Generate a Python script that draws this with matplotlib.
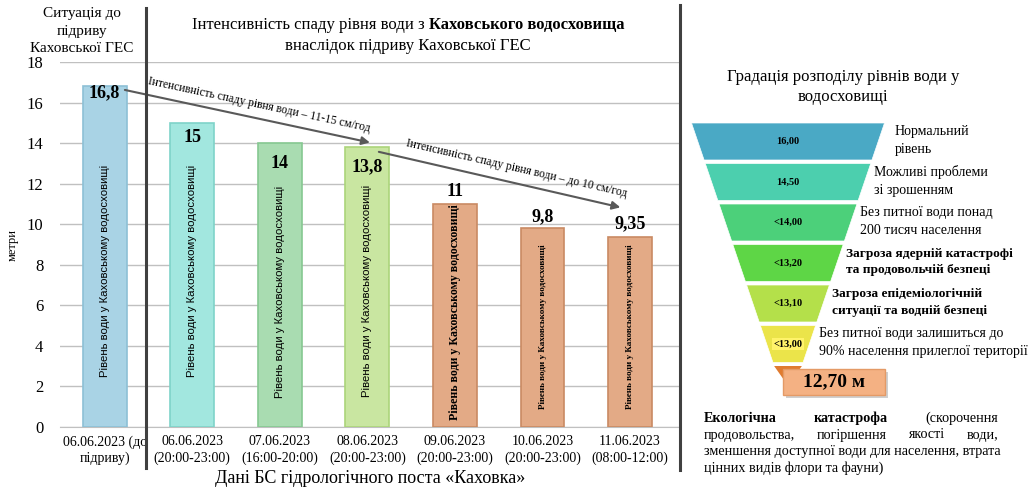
import matplotlib
matplotlib.use("Agg")
import matplotlib.pyplot as plt
from matplotlib.patches import Polygon, Rectangle
import numpy as np

plt.rcParams['font.family'] = ['Liberation Serif', 'DejaVu Serif']

# data
dates = ['06.06.2023 (до\nпідриву)', '06.06.2023\n(20:00-23:00)', '07.06.2023\n(16:00-20:00)',
         '08.06.2023\n(20:00-23:00)', '09.06.2023\n(20:00-23:00)', '10.06.2023\n(20:00-23:00)',
         '11.06.2023\n(08:00-12:00)']
levels = [16.8, 15, 14, 13.8, 11, 9.8, 9.35]
level_labels = ['16,8', '15', '14', '13,8', '11', '9,8', '9,35']
bar_colors = ['#a9d3e5', '#a2e7df', '#a9dcb1', '#c9e6a1', '#e3aa86', '#e3aa86', '#e3aa86']
edge_colors = ['#8dc0d6', '#7fd3c9', '#86c891', '#abd47a', '#c98a63', '#c98a63', '#c98a63']
bar_text = 'Рівень води у Каховському водосховищі'

funnel_values = ['16,00', '14,50', '<14,00', '<13,20', '<13,10', '<13,00']
funnel_colors = ['#4aa9c5', '#4ccfae', '#4cd07a', '#5ed646', '#b4e04a', '#ebe44a']
funnel_notes = ['Нормальний\nрівень', 'Можливі проблеми\nзі зрошенням',
                'Без питної води понад\n200 тисяч населення',
                'Загроза ядерній катастрофі\nта продовольчій безпеці',
                'Загроза епідеміологічній\nситуації та водній безпеці',
                'Без питної води залишиться до\n90% населення прилеглої території']
funnel_bold = [False, False, False, True, True, False]
final_level = '12,70 м'

W, H = 1030, 492
fig = plt.figure(figsize=(W / 100, H / 100), dpi=100)

ax = fig.add_axes([60 / W, 1 - 427 / H, 620 / W, 365 / H])
x = np.arange(len(levels))
ax.bar(x, levels, width=0.5, color=bar_colors, edgecolor=edge_colors, linewidth=1.2, zorder=3)
ax.set_ylim(0, 18)
ax.set_xlim(-0.51, 6.57)
ax.set_yticks(np.arange(0, 19, 2))
ax.tick_params(axis='y', length=0, labelsize=12, pad=12)
ax.tick_params(axis='x', length=0, labelsize=10, pad=6)
ax.set_xticks(x)
ax.set_xticklabels(dates, linespacing=1.3)
ax.grid(axis='y', color='#c0c0c0', linewidth=1, zorder=0)
for s in ['top', 'right', 'left']:
    ax.spines[s].set_visible(False)
ax.spines['bottom'].set_color('#c0c0c0')
ax.set_ylabel('метри', fontsize=9, labelpad=6)
ax.set_xlabel('Дані БС гідрологічного поста «Каховка»', fontsize=13, labelpad=3)

# value labels and bar captions
label_off = [-0.33, -0.7, -1.0, -0.95, 0.6, 0.55, 0.65]
caption_y = [7.7, 7.7, 6.65, 6.7, 5.67, 4.93, 4.93]
for i, (v, lab) in enumerate(zip(levels, level_labels)):
    ax.text(i, v + label_off[i], lab, ha='center', va='center', fontsize=13, fontweight='bold', zorder=5)
    if i < 4:
        ax.text(i, caption_y[i], bar_text, rotation=90, ha='center', va='center',
                fontsize=8.2, family=['Liberation Sans Narrow', 'Liberation Sans'], zorder=5)
    else:
        fs = 8.6 if i == 4 else 6.6
        ax.text(i, caption_y[i], bar_text, rotation=90, ha='center', va='center',
                fontsize=fs, fontweight='bold', zorder=5)

# intensity arrows
arrows = [((0.2, 16.65), (3.06, 14.0), 'Інтенсивність спаду рівня води – 11-15 см/год', 0.13),
          ((3.1, 13.6), (5.92, 10.8), 'Інтенсивність спаду рівня води – до 10 см/год', 0.2)]
fig.canvas.draw()
for (x0, y0), (x1, y1), txt, dx in arrows:
    ax.annotate('', xy=(x1, y1), xytext=(x0, y0),
                arrowprops=dict(arrowstyle='-|>', color='#595959', lw=1.5, mutation_scale=12), zorder=6)
    p0 = ax.transData.transform((x0, y0))
    p1 = ax.transData.transform((x1, y1))
    ang = np.degrees(np.arctan2(p1[1] - p0[1], p1[0] - p0[0]))
    ax.text((x0 + x1) / 2 + dx, (y0 + y1) / 2 + 0.55, txt, rotation=ang, rotation_mode='anchor',
            ha='center', va='center', fontsize=8.4, zorder=6)

# overlay in pixel coords
ov = fig.add_axes([0, 0, 1, 1])
ov.set_xlim(0, W)
ov.set_ylim(H, 0)
ov.axis('off')

ov.plot([146, 146], [8, 468], color='#404040', lw=2.2)
ov.plot([680, 680], [5, 470], color='#404040', lw=2.2)

ov.text(82, 31, 'Ситуація до\nпідриву\nКаховської ГЕС', ha='center', va='center', fontsize=11, linespacing=1.45)
t1 = ov.text(405, 25, 'Інтенсивність спаду рівня води з ', ha='right', va='center', fontsize=12)
fig.canvas.draw()
r = fig.canvas.get_renderer()
# center whole first line
part2 = 'Каховського водосховища'
tmp = ov.text(0, 0, part2, fontsize=12, fontweight='bold')
w1 = t1.get_window_extent(r).width
w2 = tmp.get_window_extent(r).width
tmp.remove()
start = 408 - (w1 + w2) / 2
t1.set_x(start + w1)
ov.text(start + w1, 25, part2, ha='left', va='center', fontsize=12, fontweight='bold')
ov.text(408, 46, 'внаслідок підриву Каховської ГЕС', ha='center', va='center', fontsize=12)

# funnel
ov.text(843, 87, 'Градація розподілу рівнів води у\nводосховищі', ha='center', va='center',
        fontsize=12, linespacing=1.35)
top, lh, gap = 123, 37, 3.5
cx = 788


def half_w(y):
    return 96.5 - (y - top) * 0.34


for i, (val, col, note, bold) in enumerate(zip(funnel_values, funnel_colors, funnel_notes, funnel_bold)):
    ya = top + i * (lh + gap)
    yb = ya + lh
    poly = Polygon([(cx - half_w(ya), ya), (cx + half_w(ya), ya), (cx + half_w(yb), yb), (cx - half_w(yb), yb)],
                   closed=True, facecolor=col, edgecolor='white', lw=0.5)
    ov.add_patch(poly)
    box = dict(boxstyle='square,pad=0.15', fc='#fff36a', ec='none') if i == 5 else None
    ov.text(cx, (ya + yb) / 2, val, ha='center', va='center', fontsize=7.5, fontweight='bold', bbox=box)
    nx = cx + half_w(ya) + (10 if i == 0 else 3)
    ov.text(nx, (ya + yb) / 2 - 1, note, ha='left', va='center', fontsize=9.6 if bold else 10,
            fontweight='bold' if bold else 'normal', linespacing=1.5)

ya = top + 6 * (lh + gap)
yb = ya + 14
ov.add_patch(Polygon([(cx - half_w(ya), ya), (cx + half_w(ya), ya), (cx + 4, yb), (cx - 4, yb)],
                     closed=True, facecolor='#e07b30', edgecolor='none'))
ov.add_patch(Rectangle((786, 372), 102, 26, facecolor='#a0a0a0', edgecolor='none', alpha=0.5))
ov.add_patch(Rectangle((783, 369), 102, 26, facecolor='#f4b183', edgecolor='#e49a66', lw=1))
ov.text(834, 382, final_level, ha='center', va='center', fontsize=14, fontweight='bold')

# justified paragraph
x_left, x_right = 704, 998
lines = [([('Екологічна', 'bold'), ('катастрофа', 'bold'), ('(скорочення', 'normal')], True),
         ([('продовольства,', 'normal'), ('погіршення', 'normal'), ('якості', 'normal'), ('води,', 'normal')], True),
         ([('зменшення доступної води для населення, втрата', 'normal')], False),
         ([('цінних видів флори та фауни)', 'normal')], False)]
fig.canvas.draw()
r = fig.canvas.get_renderer()
for k, (words, justify) in enumerate(lines):
    y = 422 + k * 16.5
    texts = [ov.text(0, y, w, ha='left', va='baseline', fontsize=10.2, fontweight=fw) for w, fw in words]
    widths = [t.get_window_extent(r).width for t in texts]
    if justify and len(texts) > 1:
        g = (x_right - x_left - sum(widths)) / (len(texts) - 1)
    else:
        g = 0
    pos = x_left
    for t, wd in zip(texts, widths):
        t.set_x(pos)
        pos += wd + g

fig.savefig('out.png', dpi=100)
